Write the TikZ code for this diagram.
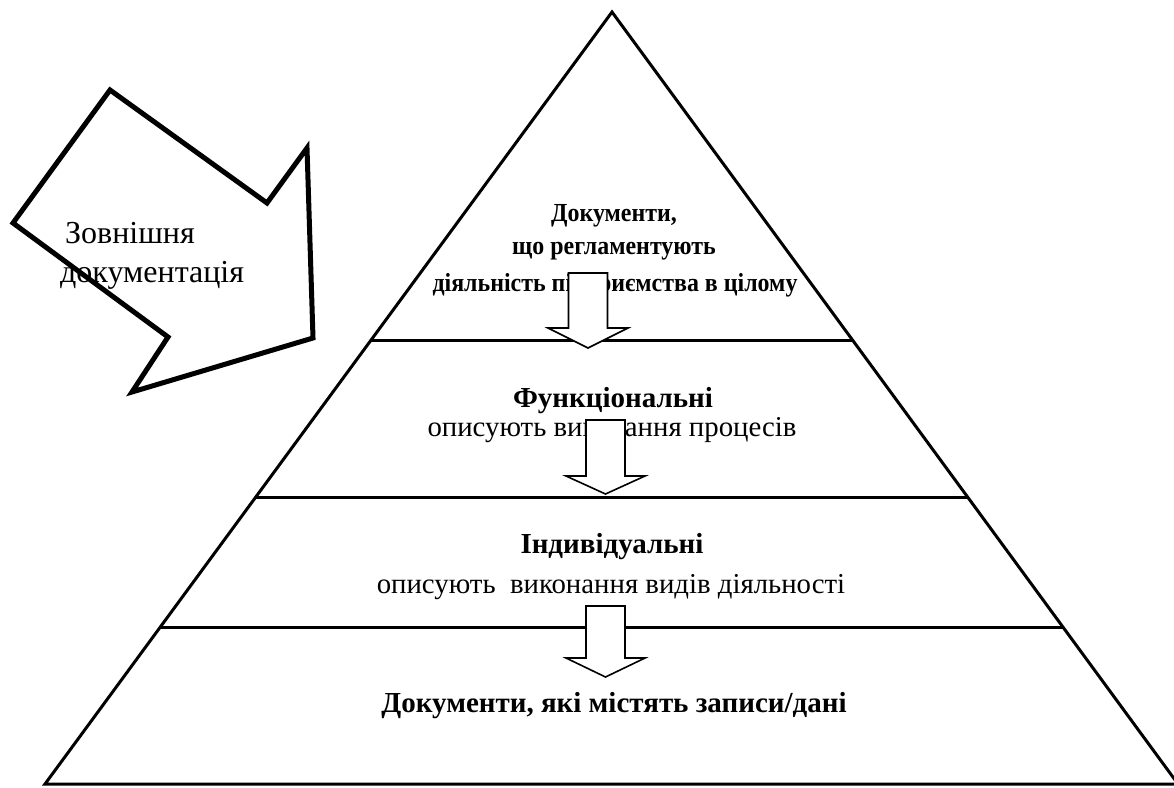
\documentclass[tikz,border=0pt]{standalone}
\usepackage{fontspec}
\setmainfont{Liberation Serif}
\usetikzlibrary{calc}
\begin{document}
\begin{tikzpicture}[x=1pt,y=-1pt,
  pyr/.style={line width=3pt, line join=miter},
  level/.style={line width=3pt},
  smallarrow/.style={draw, fill=white, line width=1.6pt, line join=miter},
  bigarrow/.style={draw, line width=5pt, line join=miter},
  bt/.style={font=\fontsize{29}{33}\selectfont\bfseries, anchor=base, inner sep=0pt},
  rt/.style={font=\fontsize{28.8}{33}\selectfont, anchor=base, inner sep=0pt},
  tt/.style={font=\fontsize{26}{30}\selectfont\bfseries, anchor=base, inner sep=0pt},
  et/.style={font=\fontsize{32}{36}\selectfont, anchor=base west, inner sep=0pt}]
\useasboundingbox (0,0) rectangle (1174,787);
\coordinate (A) at (612,12);
\coordinate (BL) at (45,784);
\coordinate (BR) at (1178,784);
\draw[pyr] (A) -- (BR) -- (BL) -- cycle;
\coordinate (l1L) at ($(A)!0.42487!(BL)$);
\coordinate (l1R) at ($(A)!0.42487!(BR)$);
\coordinate (l2L) at ($(A)!0.62824!(BL)$);
\coordinate (l2R) at ($(A)!0.62824!(BR)$);
\coordinate (l3L) at ($(A)!0.79663!(BL)$);
\coordinate (l3R) at ($(A)!0.79663!(BR)$);
\draw[level] (l1L) -- (l1R);
\draw[level] (l2L) -- (l2R);
\draw[level] (l3L) -- (l3R);
% texts
\node[tt] (t1) at (614,221) {\scalebox{0.92}[1]{Документи,}};
\node[tt] (t2) at (614,254) {\scalebox{0.92}[1]{що регламентують}};
\node[tt] (t3) at (615,291) {\scalebox{0.92}[1]{діяльність підприємства в цілому}};
\node[bt] (f1) at (613,407) {Функціональні};
\node[rt] (f2) at (612,436) {описують виконання процесів};
\node[bt] (i1) at (612,553) {Індивідуальні};
\node[rt] (i2) at (611,593) {описують\ \ виконання видів діяльності};
\node[bt] (d1) at (614,712) {Документи, які містять записи/дані};
\node[et] (e1) at (65,243) {Зовнішня};
\node[et] (e2) at (60,282) {документація};
% small arrows
\draw[smallarrow] (568.5,273) -- (607.5,273) -- (607.5,328) -- (628,328) -- (588,348) -- (548,328) -- (568.5,328) -- cycle;
\draw[smallarrow] (586,420) -- (625,420) -- (625,476) -- (645,476) -- (605.5,494) -- (566,476) -- (586,476) -- cycle;
\draw[smallarrow] (586,606) -- (625,606) -- (625,658) -- (645,658) -- (605.5,677) -- (566,658) -- (586,658) -- cycle;
% big arrow
\draw[bigarrow] (110,90) -- (267,203) -- (307,148) -- (313,338) -- (132,392) -- (168,337) -- (13,223) -- cycle;
\end{tikzpicture}
\end{document}
